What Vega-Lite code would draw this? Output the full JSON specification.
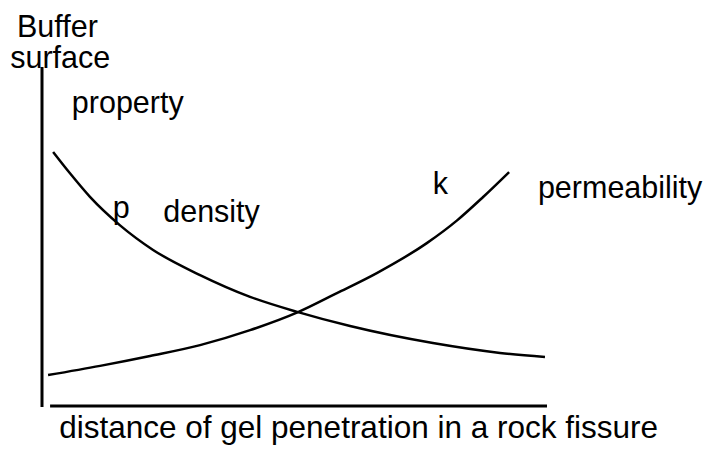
{
  "$schema": "https://vega.github.io/schema/vega-lite/v6.json",
  "autosize": "none",
  "width": 505,
  "height": 340,
  "padding": {"left": 42, "top": 67, "right": 165, "bottom": 44},
  "background": "white",
  "config": {"view": {"stroke": null}},
  "datasets": {
    "curves": [
      {"series": "density", "x": 2.2, "y": 75.0},
      {"series": "density", "x": 5.5, "y": 68.8},
      {"series": "density", "x": 9.5, "y": 61.8},
      {"series": "density", "x": 15.4, "y": 53.5},
      {"series": "density", "x": 22.0, "y": 46.2},
      {"series": "density", "x": 31.3, "y": 38.8},
      {"series": "density", "x": 41.2, "y": 32.4},
      {"series": "density", "x": 50.7, "y": 27.9},
      {"series": "density", "x": 61.0, "y": 23.8},
      {"series": "density", "x": 77.4, "y": 18.8},
      {"series": "density", "x": 90.7, "y": 15.9},
      {"series": "density", "x": 99.6, "y": 14.7},
      {"series": "permeability", "x": 1.2, "y": 9.4},
      {"series": "permeability", "x": 11.5, "y": 12.1},
      {"series": "permeability", "x": 21.4, "y": 15.0},
      {"series": "permeability", "x": 31.3, "y": 18.2},
      {"series": "permeability", "x": 41.2, "y": 22.6},
      {"series": "permeability", "x": 50.7, "y": 27.9},
      {"series": "permeability", "x": 58.4, "y": 33.5},
      {"series": "permeability", "x": 66.3, "y": 39.4},
      {"series": "permeability", "x": 76.2, "y": 48.2},
      {"series": "permeability", "x": 82.2, "y": 54.9},
      {"series": "permeability", "x": 87.3, "y": 61.7},
      {"series": "permeability", "x": 92.5, "y": 69.1}
    ],
    "axes": [
      {"x": 0, "x2": 0, "y": 0, "y2": 100},
      {"x": 1.6, "x2": 100, "y": 0.3, "y2": 0.3}
    ],
    "labels": [
      {"label": "Buffer", "x": -4.95, "y": 108.8},
      {"label": "surface", "x": -6.3, "y": 99.7},
      {"label": "property", "x": 5.9, "y": 86.5},
      {"label": "p", "x": 14.0, "y": 55.6},
      {"label": "density", "x": 24.0, "y": 54.4},
      {"label": "k", "x": 77.4, "y": 62.6},
      {"label": "permeability", "x": 98.2, "y": 61.5}
    ],
    "title": [
      {"label": "distance of gel penetration in a rock fissure", "x": 3.4, "y": -9.1}
    ]
  },
  "layer": [
    {
      "data": {"name": "axes"},
      "mark": {"type": "rule", "color": "black", "strokeWidth": 3},
      "encoding": {
        "x": {"field": "x", "type": "quantitative", "scale": {"domain": [0, 100]}, "axis": null},
        "x2": {"field": "x2"},
        "y": {"field": "y", "type": "quantitative", "scale": {"domain": [0, 100]}, "axis": null},
        "y2": {"field": "y2"}
      }
    },
    {
      "data": {"name": "curves"},
      "mark": {"type": "line", "color": "black", "strokeWidth": 2.5, "interpolate": "monotone"},
      "encoding": {
        "x": {"field": "x", "type": "quantitative", "scale": {"domain": [0, 100]}, "axis": null},
        "y": {"field": "y", "type": "quantitative", "scale": {"domain": [0, 100]}, "axis": null},
        "detail": {"field": "series"}
      }
    },
    {
      "data": {"name": "labels"},
      "mark": {"type": "text", "align": "left", "baseline": "alphabetic", "font": "Liberation Sans", "fontSize": 30.5, "color": "black"},
      "encoding": {
        "x": {"field": "x", "type": "quantitative", "scale": {"domain": [0, 100]}, "axis": null},
        "y": {"field": "y", "type": "quantitative", "scale": {"domain": [0, 100]}, "axis": null},
        "text": {"field": "label"}
      }
    },
    {
      "data": {"name": "title"},
      "mark": {"type": "text", "align": "left", "baseline": "alphabetic", "font": "Liberation Sans", "fontSize": 31.5, "color": "black"},
      "encoding": {
        "x": {"field": "x", "type": "quantitative", "scale": {"domain": [0, 100]}, "axis": null},
        "y": {"field": "y", "type": "quantitative", "scale": {"domain": [0, 100]}, "axis": null},
        "text": {"field": "label"}
      }
    }
  ]
}
